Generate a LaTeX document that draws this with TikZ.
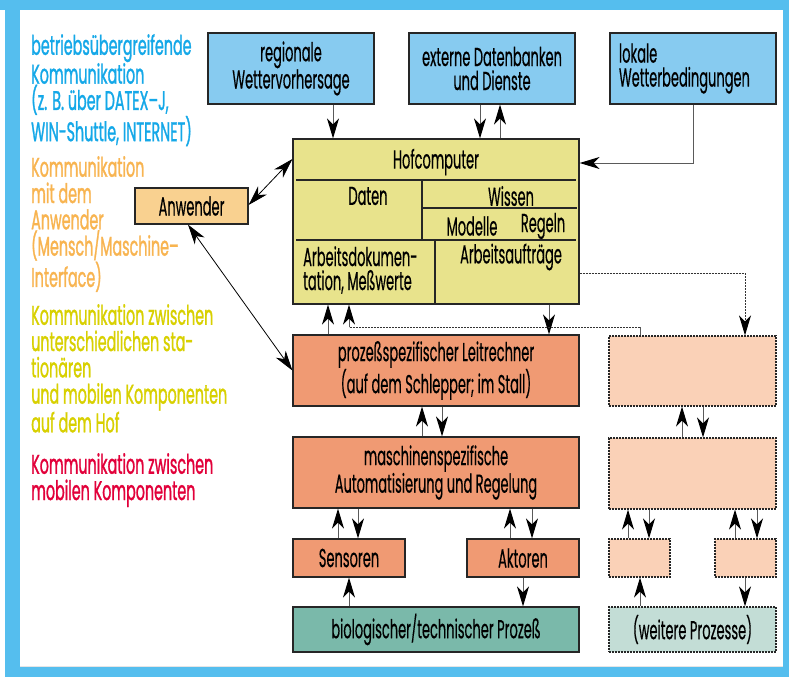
\documentclass[tikz,border=0pt]{standalone}
\usepackage{fontspec}
\setmainfont{Poppins}[FakeStretch=0.5,FakeBold=0.4]
\newfontfamily\leftfont{Poppins}[FakeStretch=0.53,FakeBold=1]
\usetikzlibrary{arrows.meta}
\definecolor{frameblue}{RGB}{85,190,238}
\definecolor{boxblue}{RGB}{135,203,240}
\definecolor{hofyellow}{RGB}{232,227,140}
\definecolor{anworange}{RGB}{249,209,144}
\definecolor{salmon}{RGB}{240,154,115}
\definecolor{teal}{RGB}{122,185,170}
\definecolor{peach}{RGB}{250,209,183}
\definecolor{lightteal}{RGB}{195,221,214}
\definecolor{txtblue}{RGB}{20,168,232}
\definecolor{txtorange}{RGB}{248,180,80}
\definecolor{txtyellow}{RGB}{216,208,0}
\definecolor{txtred}{RGB}{226,0,58}
\definecolor{linegray}{RGB}{90,90,90}
\tikzset{
  boxtext/.style={font=\fontsize{26}{24}\selectfont},
  box/.style={draw=black!85, line width=1.2pt, inner sep=0pt, boxtext, align=center},
  dbox/.style={draw=black!85, line width=1.2pt, dash pattern=on 2pt off 1pt, inner sep=0pt, boxtext, align=center, fill=peach},
  lefttext/.style={font=\leftfont\fontsize{27}{26.3}\selectfont, align=left, anchor=north west, inner sep=0pt},
  con/.style={draw=linegray, line width=1pt},
  arr/.style={con, -{Stealth[length=20pt,width=12pt,inset=6pt,black]}},
  darr/.style={con, {Stealth[length=20pt,width=12pt,inset=6pt,black]}-{Stealth[length=20pt,width=12pt,inset=6pt,black]}},
  dotcon/.style={draw=black!80, line width=1pt, dash pattern=on 2pt off 1pt},
  innerline/.style={draw=black!85, line width=1.2pt}
}
\begin{document}
\begin{tikzpicture}[x=1pt,y=-1pt]
\useasboundingbox (0,0) rectangle (789,677);
\fill[frameblue] (0,0) rectangle (789,677);
\fill[white] (0,10) rectangle (5,677);
\fill[white] (20,10) rectangle (783,667);
\draw[gray!20, line width=1pt] (20,666.5) -- (783,666.5);

% left texts
\node[lefttext, text=txtblue] (t1) at (31,34) {betriebsübergreifende\\Kommunikation\\(z. B. über DATEX–J,\\WIN-Shuttle, INTERNET)};
\node[lefttext, text=txtorange] (t2) at (31,156) {Kommunikation\\mit dem\\Anwender\\(Mensch/Maschine–\\Interface)};
\node[lefttext, text=txtyellow] (t3) at (31,304) {Kommunikation zwischen\\unterschiedlichen sta-\\tionären\\und mobilen Komponenten\\auf dem Hof};
\node[lefttext, text=txtred] (t4) at (31,453) {Kommunikation zwischen\\mobilen Komponenten};

% top boxes
\node[box, fill=boxblue, minimum width=166pt, minimum height=71pt] (reg) at (291,68.5) {regionale\\Wettervorhersage};
\node[box, fill=boxblue, minimum width=166pt, minimum height=71pt] (ext) at (492,68.5) {externe Datenbanken\\und Dienste};
\node[box, fill=boxblue, minimum width=166pt, minimum height=71pt, text width=148pt, align=left] (lok) at (693,68.5) {lokale\\Wetterbedingungen};

% Hofcomputer
\node[box, fill=hofyellow, minimum width=286pt, minimum height=165pt] (hof) at (436,221.5) {};
\draw[innerline] (296,180) -- (576,180);
\draw[innerline] (422,180) -- (422,240);
\draw[innerline] (422,208) -- (577,208);
\draw[innerline] (296,240) -- (576,240);
\draw[innerline] (435,240) -- (435,304);
\node[boxtext] (hoft) at (436,162) {Hofcomputer};
\node[boxtext] (daten) at (368,196) {Daten};
\node[boxtext] (wissen) at (511,196) {Wissen};
\node[boxtext] (modelle) at (472,226) {Modelle};
\node[boxtext] (regeln) at (543,226) {Regeln};
\node[boxtext, align=left, anchor=west, inner sep=0pt] (adok) at (303,270) {Arbeitsdokumen-\\tation, Meßwerte};
\node[boxtext] (aauf) at (511,257) {Arbeitsaufträge};

% Anwender
\node[box, fill=anworange, minimum width=113pt, minimum height=36pt] (anw) at (191.5,206) {Anwender};

% main chain
\node[box, fill=salmon, minimum width=286pt, minimum height=71pt] (leit) at (436,370.5) {prozeßspezifischer Leitrechner\\(auf dem Schlepper; im Stall)};
\node[box, fill=salmon, minimum width=286pt, minimum height=71pt] (masch) at (436,472.5) {maschinenspezifische\\Automatisierung und Regelung};
\node[box, fill=salmon, minimum width=112pt, minimum height=38pt] (sens) at (349,558) {Sensoren};
\node[box, fill=salmon, minimum width=112pt, minimum height=38pt] (akt) at (523,558) {Aktoren};
\node[box, fill=teal, minimum width=286pt, minimum height=45pt] (bio) at (436,629.5) {biologischer/technischer Prozeß};

% right dashed chain
\node[dbox, minimum width=167pt, minimum height=70pt] (r1) at (692.5,371) {};
\node[dbox, minimum width=167pt, minimum height=71pt] (r2) at (692.5,473.5) {};
\node[dbox, minimum width=61pt, minimum height=38pt] (rs1) at (639.5,558) {};
\node[dbox, minimum width=61pt, minimum height=38pt] (rs2) at (745.5,558) {};
\node[dbox, fill=lightteal, minimum width=167pt, minimum height=45pt] (wp) at (692.5,629.5) {(weitere Prozesse)};

% connectors top
\draw[arr] (333,0 |- reg.south) -- (333,0 |- hof.north);
\draw[arr] (480,0 |- ext.south) -- (480,0 |- hof.north);
\draw[arr] (500,0 |- hof.north) -- (500,0 |- ext.south);
\draw[arr] (lok.south) |- (hof.east |- 0,163);

% Anwender
\draw[darr, draw=black, line width=0.8pt] (anw.east |- 0,205) -- (hof.west |- 0,159);
\draw[darr, draw=black, line width=0.8pt] (188,0 |- anw.south) -- (leit.west);

% hof <-> leit
\draw[arr] (328,0 |- leit.north) -- (328,0 |- hof.south);
\draw[arr] (549,0 |- hof.south) -- (549,0 |- leit.north);
\coordinate (c1) at (640,327);
\coordinate (c2) at (349,327);
\draw[con] (640,0 |- r1.north) -- (c1);
\draw[dotcon] (c1) -- (c2);
\draw[arr] (c2) -- (349,0 |- hof.south);
\coordinate (c3) at (745,273);
\draw[dotcon] (hof.east |- c3) -- (c3);
\draw[dotcon, -{Stealth[length=20pt,width=12pt,inset=6pt,black]}] (c3) -- (745,0 |- r1.north);

% leit <-> masch
\draw[arr] (422,0 |- masch.north) -- (422,0 |- leit.south);
\draw[arr] (442,0 |- leit.south) -- (442,0 |- masch.north);
% r1 <-> r2
\draw[arr] (682,0 |- r2.north) -- (682,0 |- r1.south);
\draw[arr] (703,0 |- r1.south) -- (703,0 |- r2.north);

% masch <-> sens/akt
\draw[arr] (338,0 |- sens.north) -- (338,0 |- masch.south);
\draw[arr] (358,0 |- masch.south) -- (358,0 |- sens.north);
\draw[arr] (510,0 |- akt.north) -- (510,0 |- masch.south);
\draw[arr] (532,0 |- masch.south) -- (532,0 |- akt.north);
\draw[arr] (349,0 |- bio.north) -- (349,0 |- sens.south);
\draw[arr] (523,0 |- akt.south) -- (523,0 |- bio.north);

% r2 <-> rs1/rs2
\draw[arr] (628,0 |- rs1.north) -- (628,0 |- r2.south);
\draw[arr] (649,0 |- r2.south) -- (649,0 |- rs1.north);
\draw[arr] (735,0 |- rs2.north) -- (735,0 |- r2.south);
\draw[arr] (757,0 |- r2.south) -- (757,0 |- rs2.north);
\draw[arr] (640,0 |- wp.north) -- (640,0 |- rs1.south);
\draw[arr] (745,0 |- rs2.south) -- (745,0 |- wp.north);
\end{tikzpicture}
\end{document}
